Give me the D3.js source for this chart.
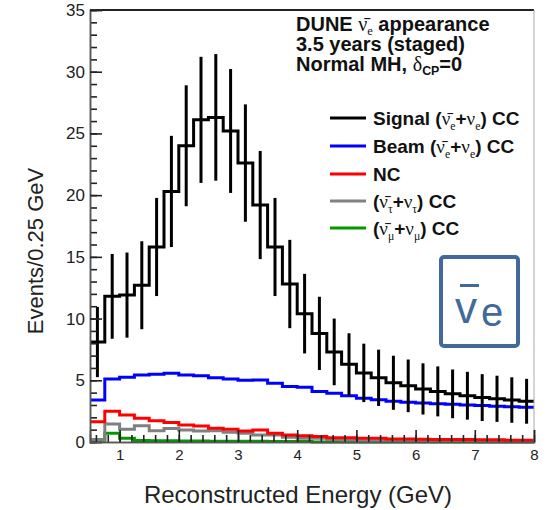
<!DOCTYPE html>
<html>
<head>
<meta charset="utf-8">
<script src="https://cdn.jsdelivr.net/npm/d3@7"></script>
<style>
  html, body { margin: 0; padding: 0; background: #fff; }
  svg { display: block; }
  text { font-family: "Liberation Sans", Arial, Helvetica, sans-serif; }
</style>
</head>
<body>
<svg id="chart" width="547" height="510"></svg>
<script>
// Reconstructed energy binning (GeV): 0.25 GeV bins from 0.5 to 8
const binStart = 0.5;
const binWidth = 0.25;

// Expected events per bin
const signal = [8.1, 11.8, 11.9, 12.7, 15.8, 20.3, 24.0, 26.1, 26.3, 25.2,
                22.6, 19.2, 15.8, 12.8, 10.4, 8.8, 7.3, 6.3, 5.6, 5.2,
                4.8, 4.55, 4.3, 4.1, 3.9, 3.75, 3.6, 3.5, 3.4, 3.3];
const beam   = [3.4, 5.1, 5.25, 5.43, 5.49, 5.57, 5.43, 5.37, 5.2, 5.1,
                5.0, 5.02, 4.75, 4.5, 4.43, 4.1, 3.95, 3.75, 3.55, 3.42,
                3.3, 3.22, 3.15, 3.1, 3.05, 3.0, 2.95, 2.9, 2.86, 2.82];
const nc     = [1.65, 2.5, 2.19, 1.92, 1.73, 1.59, 1.38, 1.3, 1.11, 1.03,
                0.89, 0.97, 0.7, 0.57, 0.5, 0.45, 0.35, 0.35, 0.3, 0.3,
                0.25, 0.25, 0.22, 0.2, 0.2, 0.2, 0.18, 0.18, 0.15, 0.15];
const tau    = [0.2, 1.46, 1.03, 1.32, 0.92, 1.1, 0.97, 0.89, 0.92, 0.79,
                0.7, 0.57, 0.57, 0.38, 0.3, 0.3, 0.2, 0.15, 0.1, 0.1,
                0.08, 0.06, 0.05, 0.05, 0.04, 0.04, 0.03, 0.03, 0.02, 0.02];
const numu   = [0.15, 0.7, 0.3, 0.12, 0.1, 0.1, 0.08, 0.08, 0.07, 0.07,
                0.06, 0.06, 0.05, 0.05, 0.04, 0, 0, 0, 0, 0,
                0, 0, 0, 0, 0, 0, 0, 0, 0, 0];

// Axis tick values
const yMajorTicks = [0, 5, 10, 15, 20, 25, 30, 35];
const xMajorTicks = [1, 2, 3, 4, 5, 6, 7, 8];

const svg = d3.select("#chart");
const x = d3.scaleLinear().domain([0.5, 8]).range([90, 534]);
const y = d3.scaleLinear().domain([0, 35]).range([442, 10]);

const edges = signal.map((_, i) => binStart + i * binWidth);

function stepPoints(vals) {
  const pts = vals.map((v, i) => [edges[i], v]);
  pts.push([binStart + vals.length * binWidth, vals[vals.length - 1]]);
  return pts;
}
const stepLine = d3.line()
  .x(d => x(d[0]))
  .y(d => y(d[1]))
  .curve(d3.curveStepAfter);

const series = [
  { vals: numu,   color: "#009a00" },
  { vals: tau,    color: "#808080" },
  { vals: nc,     color: "#ff0000" },
  { vals: beam,   color: "#0000ff" },
  { vals: signal, color: "#000000" }
];

const plot = svg.append("g");
plot.selectAll("path.hist")
  .data(series)
  .join("path")
  .attr("class", "hist")
  .attr("fill", "none")
  .attr("stroke", d => d.color)
  .attr("stroke-width", 3)
  .attr("stroke-linejoin", "miter")
  .attr("d", d => stepLine(stepPoints(d.vals)));

// Poisson error bars on the signal
plot.selectAll("line.err")
  .data(signal)
  .join("line")
  .attr("class", "err")
  .attr("x1", (d, i) => x(edges[i] + binWidth / 2))
  .attr("x2", (d, i) => x(edges[i] + binWidth / 2))
  .attr("y1", d => y(d - Math.sqrt(d)))
  .attr("y2", d => y(Math.min(35, d + Math.sqrt(d))))
  .attr("stroke", "#000")
  .attr("stroke-width", 3);

// Frame
svg.append("line").attr("x1", 90).attr("x2", 534).attr("y1", 10).attr("y2", 10)
  .attr("stroke", "#222").attr("stroke-width", 2);
svg.append("line").attr("x1", 534).attr("x2", 534).attr("y1", 10).attr("y2", 442)
  .attr("stroke", "#aaa").attr("stroke-width", 1);

// Y axis (ticks point into the frame)
const yMinor = svg.append("g").attr("transform", "translate(90,0)")
  .call(d3.axisLeft(y).tickValues(d3.range(0, 36, 1)).tickSize(-7).tickFormat(""));
const yMajor = svg.append("g").attr("transform", "translate(90,0)")
  .call(d3.axisLeft(y).tickValues(yMajorTicks).tickSize(-12).tickPadding(5));
// X axis
const xMinor = svg.append("g").attr("transform", "translate(0,442)")
  .call(d3.axisBottom(x).tickValues(d3.range(0.6, 7.95, 0.2)).tickSize(-7).tickFormat(""));
const xMajor = svg.append("g").attr("transform", "translate(0,442)")
  .call(d3.axisBottom(x).tickValues(xMajorTicks).tickSize(-12).tickPadding(7));

[yMinor, yMajor, xMinor, xMajor].forEach(g => {
  g.select(".domain").attr("stroke", "#555").attr("stroke-width", 1.5);
  g.selectAll(".tick line").attr("stroke", "#222").attr("stroke-width", 1.6);
});
yMajor.selectAll(".tick text").attr("font-size", 17).attr("fill", "#222")
  .attr("font-family", "'Liberation Sans', Arial, sans-serif");
xMajor.selectAll(".tick text").attr("font-size", 15).attr("fill", "#222")
  .attr("font-family", "'Liberation Sans', Arial, sans-serif");

// Axis titles
svg.append("text")
  .attr("transform", "translate(43,251) rotate(-90)")
  .attr("text-anchor", "middle")
  .attr("font-size", 22)
  .attr("fill", "#222")
  .text("Events/0.25 GeV");
svg.append("text")
  .attr("x", 298).attr("y", 503)
  .attr("text-anchor", "middle")
  .attr("font-size", 24)
  .attr("fill", "#222")
  .text("Reconstructed Energy (GeV)");

// Rich text helper: segments may be serif (greek) or subscripts
function richText(sel, segs, size, subShift) {
  let shift = 0;
  segs.forEach(s => {
    const target = s.sub ? size * subShift : 0;
    const ts = sel.append("tspan")
      .attr("dy", target - shift)
      .attr("font-size", s.sub ? size * 0.62 : size)
      .text(s.t);
    if (s.serif) ts.attr("font-family", "'Liberation Serif', 'DejaVu Serif', serif").attr("font-weight", "normal");
    shift = target;
  });
}

// Header
const header = [
  [{ t: "DUNE " }, { t: "\u03BD\u0304", serif: true }, { t: "e", sub: true, serif: true }, { t: " appearance" }],
  [{ t: "3.5 years (staged)" }],
  [{ t: "Normal MH, " }, { t: "\u03B4", serif: true }, { t: "CP", sub: true }, { t: "=0" }]
];
header.forEach((segs, i) => {
  const t = svg.append("text")
    .attr("x", 296).attr("y", 31 + i * 20)
    .attr("font-weight", "bold")
    .attr("fill", "#111");
  richText(t, segs, 20, 0.2);
});

// Legend
const legendEntries = [
  { color: "#000000", segs: [{ t: "Signal (" }, { t: "\u03BD\u0304", serif: true }, { t: "e", sub: true, serif: true }, { t: "+" }, { t: "\u03BD", serif: true }, { t: "e", sub: true, serif: true }, { t: ") CC" }] },
  { color: "#0000ff", segs: [{ t: "Beam (" }, { t: "\u03BD\u0304", serif: true }, { t: "e", sub: true, serif: true }, { t: "+" }, { t: "\u03BD", serif: true }, { t: "e", sub: true, serif: true }, { t: ") CC" }] },
  { color: "#ff0000", segs: [{ t: "NC" }] },
  { color: "#808080", segs: [{ t: "(" }, { t: "\u03BD\u0304", serif: true }, { t: "\u03C4", sub: true, serif: true }, { t: "+" }, { t: "\u03BD", serif: true }, { t: "\u03C4", sub: true, serif: true }, { t: ") CC" }] },
  { color: "#009a00", segs: [{ t: "(" }, { t: "\u03BD\u0304", serif: true }, { t: "\u03BC", sub: true, serif: true }, { t: "+" }, { t: "\u03BD", serif: true }, { t: "\u03BC", sub: true, serif: true }, { t: ") CC" }] }
];
const legendY = [118, 146, 174, 201, 228];
legendEntries.forEach((e, i) => {
  svg.append("line")
    .attr("x1", 330).attr("x2", 366)
    .attr("y1", legendY[i]).attr("y2", legendY[i])
    .attr("stroke", e.color).attr("stroke-width", 3);
  const t = svg.append("text")
    .attr("x", 373).attr("y", legendY[i] + 6.5)
    .attr("font-weight", "bold")
    .attr("fill", "#111");
  richText(t, e.segs, 19, 0.28);
});

// Antineutrino-e badge
const badge = svg.append("g");
badge.append("rect")
  .attr("x", 441).attr("y", 257).attr("width", 77).attr("height", 89)
  .attr("rx", 3)
  .attr("fill", "#fff")
  .attr("stroke", "#41699b")
  .attr("stroke-width", 4);
badge.append("line")
  .attr("x1", 460).attr("x2", 479).attr("y1", 285.5).attr("y2", 285.5)
  .attr("stroke", "#41699b").attr("stroke-width", 3);
badge.append("text")
  .attr("x", 455).attr("y", 323)
  .attr("font-size", 44)
  .attr("fill", "#41699b")
  .text("v");
badge.append("text")
  .attr("x", 481).attr("y", 326)
  .attr("font-size", 40)
  .attr("fill", "#41699b")
  .text("e");
</script>
</body>
</html>
